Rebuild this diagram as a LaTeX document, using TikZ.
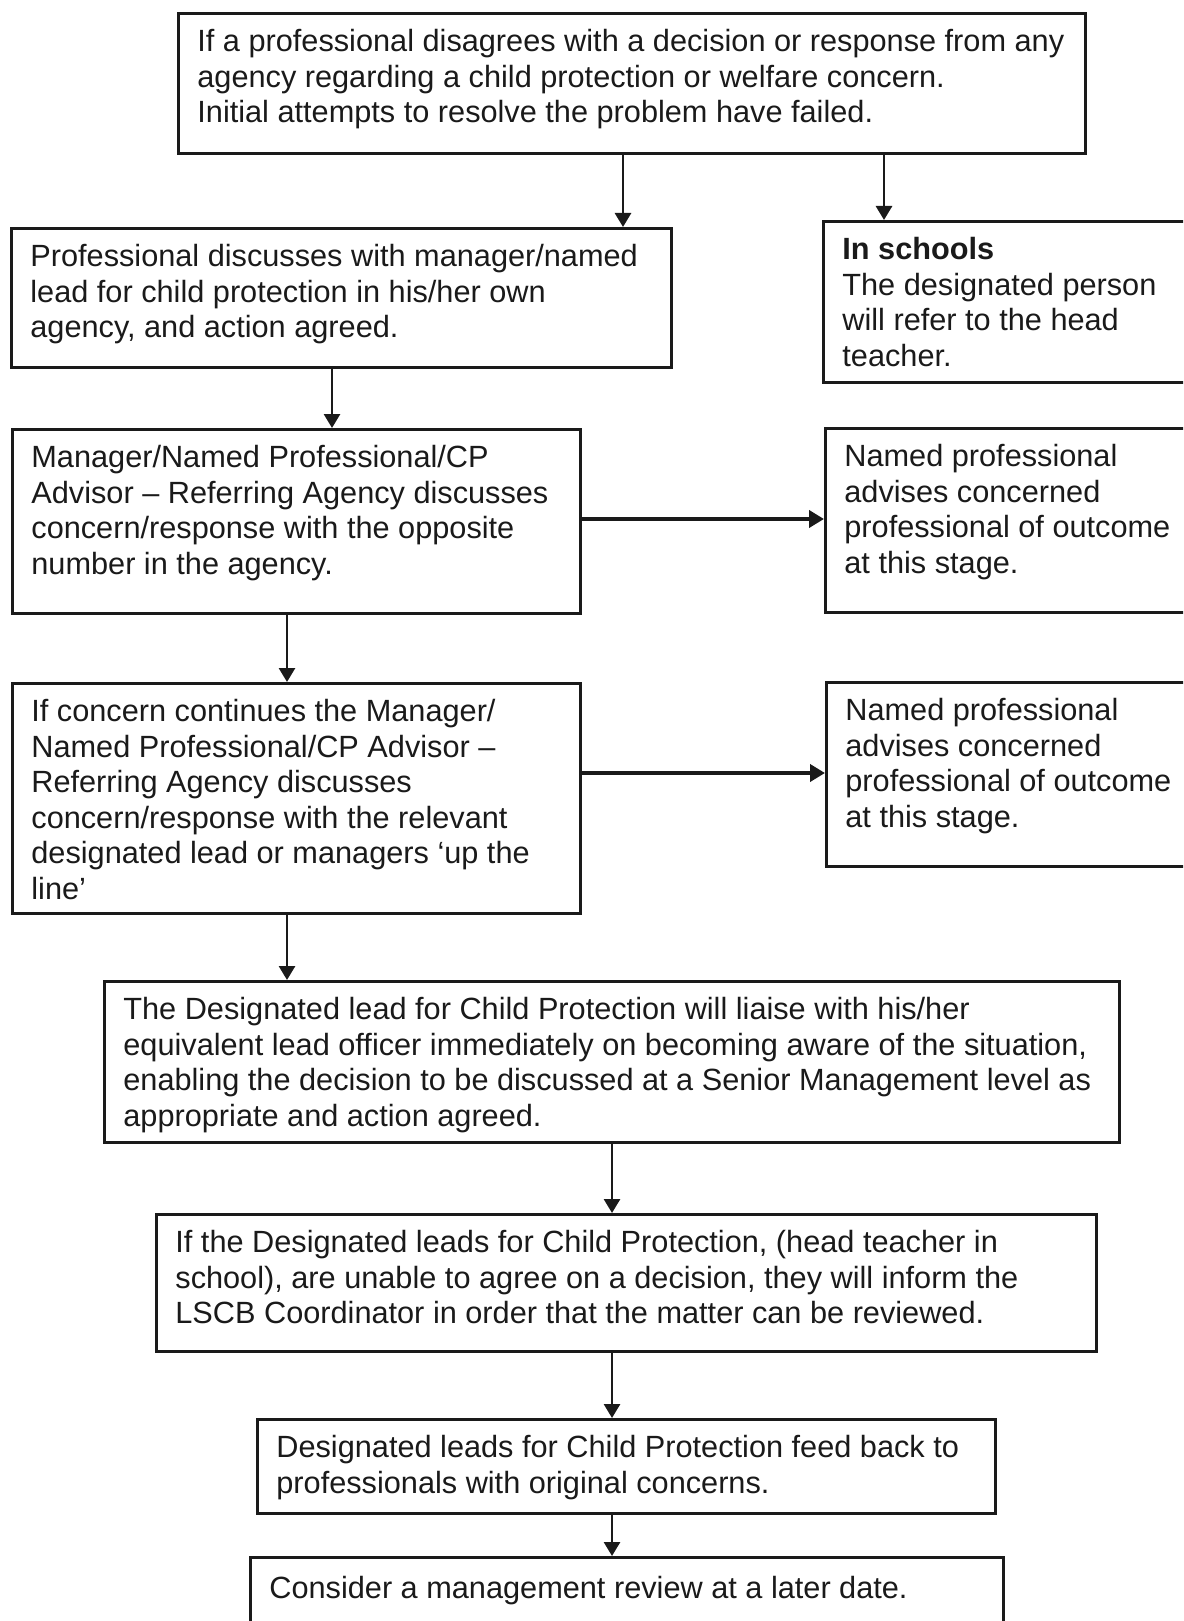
\documentclass[tikz,border=0pt]{standalone}
\usepackage{fontspec}
\setmainfont{Liberation Sans}
\usetikzlibrary{arrows.meta}
\definecolor{ink}{HTML}{1A1A1A}
\tikzset{
  flowbox/.style={draw=ink, line width=1.4pt, inner sep=0pt, anchor=north west},
  flowtext/.style={anchor=north west, inner sep=0pt, align=left, text=ink,
    font=\fontsize{15.35pt}{17.75pt}\selectfont, execute at begin node=\strut,
    xshift=10pt, yshift=-8.5pt},
  arr/.style={draw=ink, line width=1.4pt, -{Triangle[length=7pt,width=8pt]}},
  harr/.style={arr, line width=1.9pt, -{Triangle[length=7.5pt,width=8.5pt]}},
}
\begin{document}
\begin{tikzpicture}[x=0.5pt,y=-0.5pt]
\useasboundingbox (0,0) rectangle (1183,1621);
\clip (0,0) rectangle (1183,1621);
\fill[white] (0,0) rectangle (1183,1621);

% boxes
\node[flowbox, minimum width=453.5pt, minimum height=70pt] (top) at (177,12) {};
\node[flowbox, minimum width=330pt, minimum height=69.5pt] (b2) at (10,227) {};
\node[flowbox, minimum width=189pt, minimum height=80.5pt] (sch) at (822,220) {};
\node[flowbox, minimum width=284pt, minimum height=92pt] (b3) at (11,428) {};
\node[flowbox, minimum width=188pt, minimum height=92pt] (np1) at (824,427) {};
\node[flowbox, minimum width=284pt, minimum height=115pt] (b4) at (11,682) {};
\node[flowbox, minimum width=187.5pt, minimum height=92pt] (np2) at (825,681) {};
\node[flowbox, minimum width=507.5pt, minimum height=80.5pt] (b5) at (103,980) {};
\node[flowbox, minimum width=470pt, minimum height=68.5pt] (b6) at (155,1213) {};
\node[flowbox, minimum width=369pt, minimum height=47pt] (b7) at (256,1418) {};
\node[flowbox, minimum width=376.5pt, minimum height=50pt] (b8) at (249,1556) {};

% texts
\node[flowtext] (ttop) at (top.north west) {If a professional disagrees with a decision or response from any\\agency regarding a child protection or welfare concern.\\Initial attempts to resolve the problem have failed.};
\node[flowtext] (tb2) at (b2.north west) {Professional discusses with manager/named\\lead for child protection in his/her own\\agency, and action agreed.};
\node[flowtext] (tsch) at (sch.north west) {\textbf{In schools}\\The designated person\\will refer to the head\\teacher.};
\node[flowtext] (tb3) at (b3.north west) {Manager/Named Professional/CP\\Advisor – Referring Agency discusses\\concern/response with the opposite\\number in the agency.};
\node[flowtext] (tnp1) at (np1.north west) {Named professional\\advises concerned\\professional of outcome\\at this stage.};
\node[flowtext] (tb4) at (b4.north west) {If concern continues the Manager/\\Named Professional/CP Advisor –\\Referring Agency discusses\\concern/response with the relevant\\designated lead or managers ‘up the\\line’};
\node[flowtext] (tnp2) at (np2.north west) {Named professional\\advises concerned\\professional of outcome\\at this stage.};
\node[flowtext] (tb5) at (b5.north west) {The Designated lead for Child Protection will liaise with his/her\\equivalent lead officer immediately on becoming aware of the situation,\\enabling the decision to be discussed at a Senior Management level as\\appropriate and action agreed.};
\node[flowtext] (tb6) at (b6.north west) {If the Designated leads for Child Protection, (head teacher in\\school), are unable to agree on a decision, they will inform the\\LSCB Coordinator in order that the matter can be reviewed.};
\node[flowtext] (tb7) at (b7.north west) {Designated leads for Child Protection feed back to\\professionals with original concerns.};
\node[flowtext] (tb8) at (b8.north west) {Consider a management review at a later date.};

% connector guides
\coordinate (xa) at (623,0);
\coordinate (xb) at (884,0);
\coordinate (xc) at (332,0);
\coordinate (xd) at (287,0);
\coordinate (xe) at (612,0);
\coordinate (ya) at (0,519);
\coordinate (yb) at (0,773);

% connectors
\draw[arr] (top.south -| xa) -- (b2.north -| xa);
\draw[arr] (top.south -| xb) -- (sch.north -| xb);
\draw[arr] (b2.south -| xc) -- (b3.north -| xc);
\draw[harr] (b3.east |- ya) -- (np1.west |- ya);
\draw[arr] (b3.south -| xd) -- (b4.north -| xd);
\draw[harr] (b4.east |- yb) -- (np2.west |- yb);
\draw[arr] (b4.south -| xd) -- (b5.north -| xd);
\draw[arr] (b5.south -| xe) -- (b6.north -| xe);
\draw[arr] (b6.south -| xe) -- (b7.north -| xe);
\draw[arr] (b7.south -| xe) -- (b8.north -| xe);
\end{tikzpicture}
\end{document}
